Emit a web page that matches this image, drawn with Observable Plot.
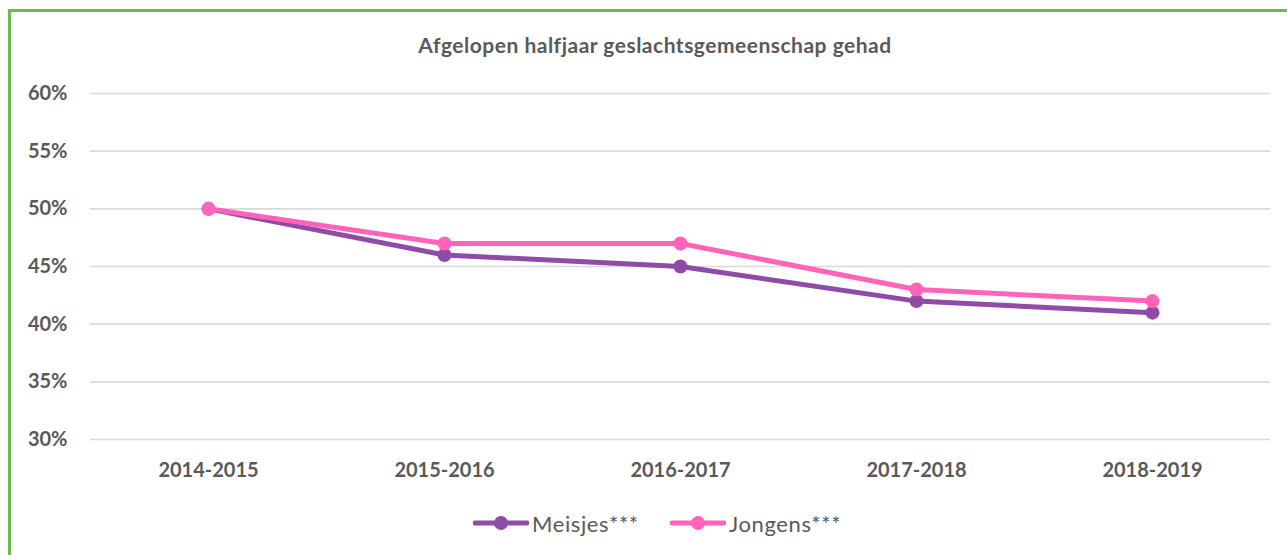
<!DOCTYPE html>
<html>
<head>
<meta charset="utf-8">
<script src="https://cdn.jsdelivr.net/npm/d3@7"></script>
<script src="https://cdn.jsdelivr.net/npm/@observablehq/plot@0.6"></script>
<style>
  html, body { margin: 0; padding: 0; background: #fff; }
  body { width: 1287px; height: 555px; overflow: hidden; position: relative; font-family: Lato, "Open Sans", sans-serif; }
  #frame { position: absolute; left: 8px; top: 9px; width: 1320px; height: 600px; border: 3px solid #6BBD45; box-sizing: border-box; }
  #title { position: absolute; left: 0; top: 32px; width: 1310px; text-align: center; font-size: 21px; letter-spacing: 0.5px; font-weight: 700; color: #595959; line-height: 26px; }
  #chart { position: absolute; left: 0; top: 0; }
  .leg { position: absolute; top: 509px; height: 28px; display: flex; align-items: center; font-size: 22px; letter-spacing: 0.6px; color: #595959; }
  .leg svg { margin-right: 3px; }
</style>
</head>
<body>
<div id="frame"></div>
<div id="title">Afgelopen halfjaar geslachtsgemeenschap gehad</div>
<div id="chart"></div>
<div id="legend"></div>
<script>
const years = ["2014-2015", "2015-2016", "2016-2017", "2017-2018", "2018-2019"];
const meisjes = [50, 46, 45, 42, 41];
const jongens = [50, 47, 47, 43, 42];
const yTicks = [30, 35, 40, 45, 50, 55, 60];
const seriesNames = ["Meisjes***", "Jongens***"];
const seriesColors = ["#8F4BA6", "#FF64B8"];

const data = [];
years.forEach((y, i) => {
  data.push({year: y, value: meisjes[i], series: seriesNames[0]});
});
years.forEach((y, i) => {
  data.push({year: y, value: jongens[i], series: seriesNames[1]});
});

const marks = [
  Plot.gridY(yTicks, {stroke: "#d9d9d9", strokeOpacity: 1, strokeWidth: 1.6})
];
seriesNames.forEach((name, k) => {
  const d = data.filter(r => r.series === name);
  marks.push(Plot.line(d, {x: "year", y: "value", stroke: seriesColors[k], strokeWidth: 5, strokeLinejoin: "round", strokeLinecap: "round"}));
  marks.push(Plot.dot(d, {x: "year", y: "value", fill: seriesColors[k], r: 7}));
});
marks.push(Plot.axisY(yTicks, {tickSize: 0, tickPadding: 23, tickFormat: d => d + "%", fontSize: 20, fontWeight: 700, fill: "#595959", label: null}));
marks.push(Plot.axisX({tickSize: 0, tickPadding: 23, fontSize: 20, fontWeight: 700, fill: "#595959", label: null}));

const chart = Plot.plot({
  width: 1287,
  height: 500,
  marginLeft: 90,
  marginRight: 17,
  marginTop: 93,
  marginBottom: 61,
  style: {fontFamily: "Lato, 'Open Sans', sans-serif", background: "transparent", color: "#595959"},
  x: {type: "point", domain: years, padding: 0.5, align: 0.5},
  y: {domain: [30, 60]},
  marks
});
document.getElementById("chart").appendChild(chart);

const legend = document.getElementById("legend");
const legLeft = [473, 670];
seriesNames.forEach((name, k) => {
  const item = document.createElement("div");
  item.className = "leg";
  item.style.left = legLeft[k] + "px";
  item.innerHTML = `<svg width="56" height="16"><line x1="2" y1="8" x2="54" y2="8" stroke="${seriesColors[k]}" stroke-width="5" stroke-linecap="round"/><circle cx="28" cy="8" r="7" fill="${seriesColors[k]}"/></svg><span>${name}</span>`;
  legend.appendChild(item);
});
</script>
</body>
</html>
